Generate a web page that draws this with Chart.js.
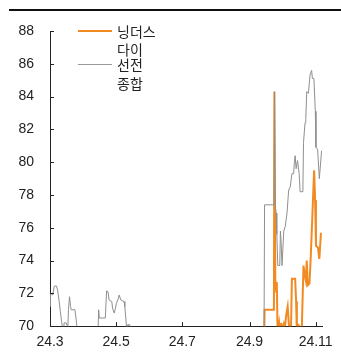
<!DOCTYPE html>
<html><head><meta charset="utf-8">
<script src="https://cdn.jsdelivr.net/npm/chart.js@4/dist/chart.umd.min.js"></script>
<style>
html,body{margin:0;padding:0;background:#fff;}
#wrap{position:relative;width:341px;height:360px;overflow:hidden;}
#topbar{position:absolute;left:9px;top:9px;width:332px;height:2px;background:#111;}
.lg{position:absolute;font-family:"Noto Sans CJK KR","Noto Sans",sans-serif;font-size:14px;line-height:18px;color:#222;white-space:nowrap;}
.sw{position:absolute;left:78px;width:34px;}
</style></head>
<body>
<div id="wrap">
<canvas id="c" width="341" height="360"></canvas>
<div id="topbar"></div>
<div class="sw" style="top:30px;height:2px;background:#f28a22;"></div>
<div class="lg" style="left:117px;top:22px;">닝더스</div>
<div class="lg" style="left:117px;top:40px;">다이</div>
<div class="sw" style="top:64px;height:1px;background:#999;"></div>
<div class="lg" style="left:117px;top:55px;">선전</div>
<div class="lg" style="left:117px;top:74px;">종합</div>
</div>
<script>
// x: days since 2024-03-01
const tickDays = [0, 61, 122, 184, 245];
const tickLabels = ['24.3', '24.5', '24.7', '24.9', '24.11'];
const seriesNames = ['닝더스다이', '선전종합'];

const grayDays = [0,0.5,2.5,4,6,7,8.5,9.5,10.7,11.5,12.5,13,15,16.5,17,18,19,19.5,23,24.5,25,26,30,
  43.5,44.9,45.5,51,52.2,53.5,54.5,57,57.7,59.2,60,61.3,62.5,63.8,65.3,68.3,69,70.4,71,72.2,73.5,74,75,120,
  197.3,197.9,206.5,207,207.8,208.6,209.2,210.1,211.9,212.5,213.1,214,215.6,217,218.6,220.1,221.6,223.1,224.7,225.4,226.1,227,228.3,229.8,230.7,233.2,233.8,235.2,235.9,236.8,238.3,239.8,241.3,242,243.4,244.7,245.3,246.8,248.4,250.5];
const grayValues = [71.2,72.0,71.9,72.45,72.45,72.2,71.5,70.9,70.3,69.9,69.6,70.2,70.2,69.9,71.0,71.8,71.2,71.0,71.0,70.2,69.5,68,null,
  68,71.0,70.5,70.5,72.15,72.1,71.6,71.5,71.1,70.8,71.0,71.4,71.6,71.9,71.6,71.5,71.2,70.1,69.5,70.1,70.1,69.5,68,null,
  68,77.4,77.4,84.3,77.3,76.9,75.6,73.7,73.7,75.8,75.2,73.7,75.8,76.1,76.9,78.3,78.5,79.3,79.3,80.0,80.4,79.6,80.1,79.3,78.2,78.2,81.2,82.4,82.6,84.3,84.2,85.3,85.6,85.1,85.1,83.1,80.9,80.8,79.0,80.7];

const orangeDays = [197.3,197.9,206.5,207,207.8,208.6,209.2,209.9,211.3,212.2,213.4,214,215.6,216.5,217.9,219.2,220.1,221,222.2,223.1,226.1,227,227.7,228.6,232.2,233.8,234.7,235.9,236.8,237.7,239.3,240.4,242.3,243.6,244.5,245.3,247.1,248.4,249.9];
const orangeValues = [68,71.0,71.0,84.3,72.8,72.1,72.7,69.5,70.2,69.6,70.2,69.6,70.1,69.8,70.7,71.2,70.3,69.5,69.6,72.9,72.9,71.5,69.5,70.1,69.8,73.7,73.2,72.8,74.0,72.5,72.6,74.1,77.3,79.5,77.7,74.9,74.8,74.1,75.7];

const pts = (d, v) => d.map((x, i) => ({x, y: v[i]}));

const inwardTicks = {
  id: 'inwardTicks',
  afterDraw(chart) {
    const {ctx, chartArea, scales} = chart;
    ctx.save();
    ctx.strokeStyle = '#222';
    ctx.lineWidth = 1;
    ctx.beginPath();
    scales.x.ticks.forEach(t => {
      const px = Math.round(scales.x.getPixelForValue(t.value)) + 0.5;
      ctx.moveTo(px, chartArea.bottom); ctx.lineTo(px, chartArea.bottom - 4);
    });
    scales.y.ticks.forEach(t => {
      const py = Math.round(scales.y.getPixelForValue(t.value)) + 0.5;
      ctx.moveTo(chartArea.left, py); ctx.lineTo(chartArea.left + 4, py);
    });
    ctx.stroke();
    ctx.restore();
  }
};

new Chart(document.getElementById('c'), {
  type: 'line',
  data: {
    datasets: [
      {label: seriesNames[1], data: pts(grayDays, grayValues), borderColor: '#8f8f8f', borderWidth: 1, pointRadius: 0, tension: 0, spanGaps: false},
      {label: seriesNames[0], data: pts(orangeDays, orangeValues), borderColor: '#f28a22', borderWidth: 2, pointRadius: 0, tension: 0, spanGaps: false}
    ]
  },
  options: {
    responsive: false,
    animation: false,
    devicePixelRatio: 1,
    layout: {padding: {left: 0, right: 15, top: 31, bottom: 1}},
    plugins: {legend: {display: false}, tooltip: {enabled: false}},
    scales: {
      x: {
        type: 'linear', min: 0, max: 251,
        afterBuildTicks: s => { s.ticks = tickDays.map(v => ({value: v})); },
        ticks: {
          callback: v => tickLabels[tickDays.indexOf(v)] ?? '',
          font: {family: 'Liberation Sans, Arial, sans-serif', size: 14},
          color: '#222', padding: 8, maxRotation: 0, autoSkip: false
        },
        grid: {drawOnChartArea: false, drawTicks: false},
        border: {color: '#222', width: 1}
      },
      y: {
        min: 70, max: 88,
        afterFit: s => { s.width = 50; },
        ticks: {
          stepSize: 2,
          font: {family: 'Liberation Sans, Arial, sans-serif', size: 14},
          color: '#222', padding: 16
        },
        grid: {drawOnChartArea: false, drawTicks: false},
        border: {color: '#222', width: 1}
      }
    }
  },
  plugins: [inwardTicks]
});
</script>
</body></html>
